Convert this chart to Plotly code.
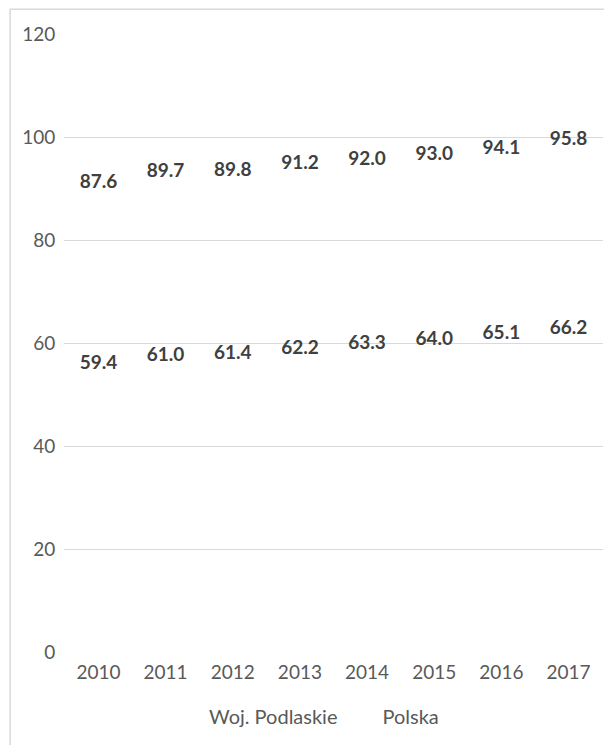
import plotly.graph_objects as go

lata = ["2010", "2011", "2012", "2013", "2014", "2015", "2016", "2017"]
podlaskie = [59.4, 61.0, 61.4, 62.2, 63.3, 64.0, 65.1, 66.2]
polska = [87.6, 89.7, 89.8, 91.2, 92.0, 93.0, 94.1, 95.8]
y_ticks = [0, 20, 40, 60, 80, 100, 120]

etykieta = dict(family="Lato, 'Open Sans', sans-serif", size=19, color="#404040", weight="bold")
niewidoczna = dict(color="rgba(0,0,0,0)", width=2)
bez_markera = dict(size=12, color="rgba(0,0,0,0)")

fig = go.Figure()
# linie niewidoczne, tylko etykiety danych jak w oryginale
fig.add_trace(go.Scatter(x=lata, y=podlaskie, mode="lines+markers+text", name="Woj. Podlaskie",
                         text=[f"{v:.1f}" for v in podlaskie], textposition="bottom center",
                         textfont=etykieta, line=niewidoczna, marker=bez_markera, hoverinfo="skip"))
fig.add_trace(go.Scatter(x=lata, y=polska, mode="lines+markers+text", name="Polska",
                         text=[f"{v:.1f}" for v in polska], textposition="top center",
                         textfont=etykieta, line=niewidoczna, marker=bez_markera, hoverinfo="skip"))

fig.update_layout(
    width=612, height=745,
    margin=dict(l=56, r=17, t=26, b=101),
    paper_bgcolor="white", plot_bgcolor="white",
    font=dict(family="Lato, 'Open Sans', sans-serif", size=19, color="#595959"),
    showlegend=True,
    legend=dict(orientation="h", x=0.45, xanchor="center", y=-0.1036, yanchor="middle",
                font=dict(size=20, color="#595959"), itemwidth=30),
    xaxis=dict(type="category", showgrid=False, showline=False, zeroline=False,
               ticks="outside", ticklen=3, tickcolor="rgba(0,0,0,0)",
               tickfont=dict(size=19, color="#595959")),
    yaxis=dict(range=[0, 120], tickvals=y_ticks, showgrid=True, gridcolor="#d9d9d9",
               gridwidth=1.2, zeroline=False, showline=False,
               ticks="outside", ticklen=4, tickcolor="rgba(0,0,0,0)",
               tickfont=dict(size=19, color="#595959")),
    shapes=[dict(type="rect", xref="paper", yref="paper",
                 x0=-0.1, x1=1.03, y0=-0.2, y1=1.04,
                 line=dict(color="#d9d9d9", width=1.5), fillcolor="rgba(0,0,0,0)", layer="below")],
)

fig.write_html("out.html")
